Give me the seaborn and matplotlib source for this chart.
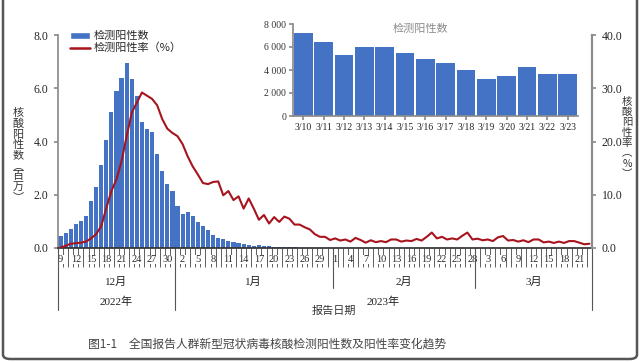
import matplotlib.pyplot as plt
import seaborn as sns
import pandas as pd
import numpy as np
from matplotlib.patches import FancyBboxPatch, Patch
from matplotlib.lines import Line2D

# 报告日期 2022-12-09 ~ 2023-03-23
dates = pd.date_range("2022-12-09", "2023-03-23", freq="D")

# 检测阳性数（百万），12/09 ~ 3/09
pos_count = [
    0.44, 0.56, 0.72, 0.90, 1.02, 1.20, 1.77, 2.29, 3.10, 4.05,
    5.10, 5.90, 6.40, 6.94, 6.33, 5.70, 4.72, 4.47, 4.34, 3.52,
    2.90, 2.41, 2.15, 1.56, 1.27, 1.35, 1.22, 0.97, 0.84, 0.69,
    0.48, 0.37, 0.35, 0.26, 0.21, 0.17, 0.14, 0.10, 0.09, 0.10,
    0.07, 0.06, 0.05, 0.04, 0.032, 0.026, 0.021, 0.018, 0.015, 0.013,
    0.011, 0.010, 0.009, 0.008,
    0.0075, 0.0070, 0.0068, 0.0072, 0.0066, 0.0061, 0.0058, 0.0063, 0.0060, 0.0057,
    0.0054, 0.0059, 0.0062, 0.0056, 0.0053, 0.0050, 0.0055, 0.0058, 0.0061, 0.0064,
    0.0060, 0.0057, 0.0062, 0.0066, 0.0063, 0.0059, 0.0061, 0.0065,
    0.0068, 0.0071, 0.0066, 0.0064, 0.0069, 0.0073, 0.0070, 0.0067, 0.0072,
]

# 小图：3/10 ~ 3/23 检测阳性数
inset_labels = ["3/10", "3/11", "3/12", "3/13", "3/14", "3/15", "3/16",
                "3/17", "3/18", "3/19", "3/20", "3/21", "3/22", "3/23"]
inset_count = [7190, 6460, 5300, 5970, 5970, 5510, 4960,
               4580, 3970, 3250, 3480, 4290, 3650, 3620]

# 检测阳性率（%）
pos_rate = [
    0.1, 0.4, 0.8, 0.9, 1.0, 1.2, 1.8, 2.6, 4.1, 7.5,
    10.7, 12.9, 16.3, 21.0, 25.4, 27.3, 29.2, 28.6, 28.0, 26.8,
    24.2, 22.4, 21.6, 21.0, 19.5, 17.2, 15.3, 13.8, 12.2, 12.0,
    12.4, 12.5, 9.9, 10.7, 9.0, 9.7, 7.4, 9.3, 7.4, 5.3,
    6.2, 4.6, 5.8, 4.9, 5.9, 5.5, 4.4, 4.4, 3.9, 3.5,
    2.6, 2.1, 2.1, 1.5, 1.8, 1.4, 1.6, 1.2, 1.9, 1.5,
    1.0, 1.45, 1.1, 1.3, 1.1, 1.6, 1.6, 1.2, 1.4, 1.3,
    1.7, 1.4, 2.1, 2.9, 1.8, 2.1, 1.6, 1.8, 1.6, 2.3,
    2.9, 1.6, 1.75, 1.45, 1.6, 1.3, 2.0, 2.25, 1.4, 1.5,
    1.2, 1.45, 1.1, 1.6, 1.6, 1.05, 1.2, 0.95, 1.2, 0.95,
    1.3, 1.3, 1.0, 0.7, 0.8,
]

month_names = ["12月", "1月", "2月", "3月"]
year_names = ["2022年", "2023年"]

BLUE = "#4472C4"
RED = "#A8141E"
CJK = ["Noto Sans CJK SC", "DejaVu Sans"]
NUM = ["Liberation Serif", "Noto Sans CJK SC"]

sns.set_theme(style="white")
plt.rcParams["font.family"] = CJK

df = pd.DataFrame({
    "day": np.arange(len(dates)),
    "count": pos_count + [v / 1e6 for v in inset_count],
    "rate": pos_rate,
})

W, H = 640, 362
fig = plt.figure(figsize=(6.4, 3.62), dpi=100)
fig.patch.set_facecolor("white")

# 主图
ax = fig.add_axes([58 / W, 1 - 248 / H, 534 / W, 213 / H])
sns.barplot(data=df, x="day", y="count", color=BLUE, saturation=1,
            width=0.82, linewidth=0, ax=ax)
ax2 = ax.twinx()
sns.lineplot(data=df, x="day", y="rate", color=RED, lw=1.5, ax=ax2)

ax.set_xlim(-0.5, len(dates) - 0.5)
ax.set_ylim(0, 8)
ax2.set_ylim(0, 40)
ax.set_xlabel("")
ax.set_ylabel("")
ax2.set_xlabel("")
ax2.set_ylabel("")

for a in (ax, ax2):
    a.spines["top"].set_visible(False)
ax.spines["left"].set_color("#8c8c8c")
ax.spines["right"].set_visible(False)
ax2.spines["left"].set_visible(False)
ax2.spines["right"].set_color("#8c8c8c")
ax2.spines["right"].set_linewidth(1.6)
ax.spines["bottom"].set_color("#333333")
ax2.spines["bottom"].set_visible(False)

ax.set_yticks([0, 2, 4, 6, 8])
ax.set_yticklabels([f"{v:.1f}" for v in [0, 2, 4, 6, 8]], family=NUM, fontsize=8.5)
ax.tick_params(axis="y", length=3, color="#8c8c8c", pad=4, left=True)
ax2.set_yticks([0, 10, 20, 30, 40])
ax2.set_yticklabels([f"{v:.1f}" for v in [0, 10, 20, 30, 40]], family=NUM, fontsize=8.5)
ax2.tick_params(axis="y", length=3, color="#8c8c8c", pad=4, right=True)

# x 轴：每日分隔刻度 + 每 3 日标签
ax.set_xticks(np.arange(-0.5, len(dates), 1))
ax.set_xticklabels([])
ax.tick_params(axis="x", which="major", length=14, width=0.6, color="#444444", bottom=True)
ax.set_xticks(np.arange(0, len(dates), 3), minor=True)
ax.set_xticklabels([str(d.day) for d in dates[::3]], minor=True, family=NUM, fontsize=7.5)
ax.tick_params(axis="x", which="minor", length=0, pad=5, bottom=True)
for lab in ax.get_xticklabels(minor=True):
    lab.set_bbox(dict(facecolor="white", edgecolor="none", pad=0.3))

# 月、年分隔线与标签
xt = ax.get_xaxis_transform()
month_edges = [-0.5, 22.5, 53.5, 81.5, len(dates) - 0.5]
for e in month_edges:
    depth = -0.291 if e in (month_edges[0], month_edges[1], month_edges[-1]) else -0.188
    ax.plot([e, e], [0, depth], color="#555555", lw=0.8, transform=xt, clip_on=False)
for i, name in enumerate(month_names):
    ax.text((month_edges[i] + month_edges[i + 1]) / 2, -0.16, name, transform=xt,
            ha="center", va="center", fontsize=8, family=NUM, color="#222222")
year_edges = [month_edges[0], month_edges[1], month_edges[-1]]
for i, name in enumerate(year_names):
    ax.text((year_edges[i] + year_edges[i + 1]) / 2, -0.254, name, transform=xt,
            ha="center", va="center", fontsize=8, family=NUM, color="#222222")
ax.text(53.8, -0.296, "报告日期", transform=xt, ha="center", va="center",
        fontsize=8, color="#333333")

# 纵向轴标题
fig.text(18 / W, 1 - 155 / H, "\n".join("核酸阳性数︵百万︶"), ha="center", va="center",
         fontsize=8, linespacing=1.05, color="#333333")
fig.text(627 / W, 1 - 138 / H, "\n".join("核酸阳性率︵%︶"), ha="center", va="center",
         fontsize=7.5, linespacing=1.05, color="#333333")

ax2.legend(handles=[Patch(facecolor=BLUE), Line2D([], [], color=RED, lw=1.8)],
           labels=["检测阳性数", "检测阳性率（%）"], loc="upper left",
           bbox_to_anchor=(0.015, 1.04), frameon=False, fontsize=8,
           handlelength=1.8, handleheight=0.6, labelspacing=0.15,
           handletextpad=0.3, borderaxespad=0)

# 小图
axi = fig.add_axes([293 / W, 1 - 116 / H, 285 / W, 92 / H])
sns.barplot(x=inset_labels, y=inset_count, color=BLUE, saturation=1,
            width=0.92, linewidth=0, ax=axi)
axi.set_xlim(-0.5, len(inset_labels) - 0.5)
axi.set_ylim(0, 8000)
axi.set_yticks([0, 2000, 4000, 6000, 8000])
axi.set_yticklabels(["0", "2 000", "4 000", "6 000", "8 000"], family=NUM, fontsize=7,
                    color="#333333")
axi.set_xticks(range(len(inset_labels)))
axi.set_xticklabels(inset_labels, family=NUM, fontsize=7, color="#222222")
axi.tick_params(axis="both", length=3, color="#8c8c8c", pad=2, left=True, bottom=True)
axi.spines["top"].set_visible(False)
axi.spines["right"].set_visible(False)
axi.spines["left"].set_color("#8c8c8c")
axi.spines["bottom"].set_color("#8c8c8c")
axi.set_facecolor("white")
axi.text(0.446, 0.95, "检测阳性数", transform=axi.transAxes, ha="center", va="center",
         fontsize=8, color="#8a8a8a")

# 图题
fig.text(267 / W, 1 - 344 / H, "图1-1　全国报告人群新型冠状病毒核酸检测阳性数及阳性率变化趋势",
         ha="center", va="center", fontsize=8.5, color="#444444")

# 外框
fig.patches.append(FancyBboxPatch((3 / W, 3 / H), 634 / W, 1.2, transform=fig.transFigure,
                                  boxstyle="round,pad=0,rounding_size=0.012",
                                  fill=False, ec="#555555", lw=1.8))

fig.savefig("out.png", dpi=100)
